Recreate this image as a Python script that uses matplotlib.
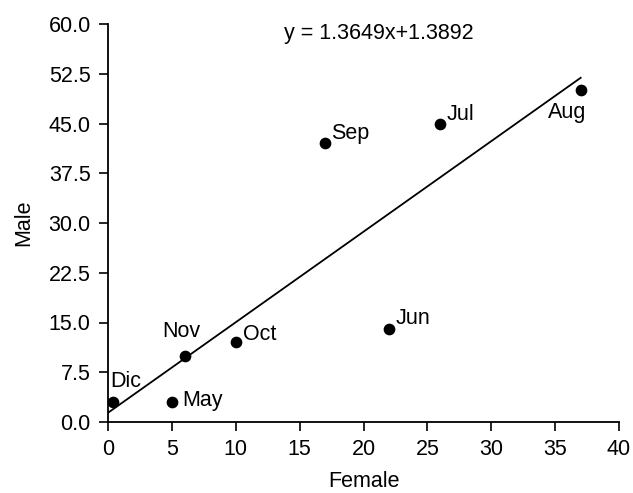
import matplotlib
matplotlib.use("Agg")
import matplotlib.pyplot as plt
import numpy as np

months = ["Dic", "May", "Nov", "Oct", "Sep", "Jun", "Jul", "Aug"]
female = [0.4, 5, 6, 10, 17, 22, 26, 37]
male = [3, 3, 10, 12, 42, 14, 45, 50]
slope = 1.3649
intercept = 1.3892
equation = "y = 1.3649x+1.3892"
xticks = [0, 5, 10, 15, 20, 25, 30, 35, 40]
yticks = [0.0, 7.5, 15.0, 22.5, 30.0, 37.5, 45.0, 52.5, 60.0]

# label offsets in pixels (dx, dy, ha, va)
offsets = {
    "Dic": (-3, 10, "left", "bottom"),
    "May": (10, 2, "left", "center"),
    "Nov": (-3, 14, "center", "bottom"),
    "Oct": (7, 8, "left", "center"),
    "Sep": (6, 10, "left", "center"),
    "Jun": (7, 11, "left", "center"),
    "Jul": (6, 9, "left", "center"),
    "Aug": (-14, -12, "center", "top"),
}

plt.rcParams['font.family'] = ['Liberation Sans', 'DejaVu Sans']
FS = 15.5

fig = plt.figure(figsize=(6.33, 4.93), dpi=100)
ax = fig.add_axes([108/633, 1-422/493, (619-108)/633, (422-24)/493])

ax.scatter(female, male, s=55, color='black', zorder=3, clip_on=False)
xl = np.array([0, max(female)])
ax.plot(xl, slope*xl + intercept, color='black', lw=1.3)

for m, x, y in zip(months, female, male):
    dx, dy, ha, va = offsets[m]
    ax.annotate(m, (x, y), xytext=(dx, dy), textcoords='offset pixels',
                ha=ha, va=va, fontsize=FS)

ax.text(21.2, 58.6, equation, ha='center', va='center', fontsize=FS)

ax.set_xlim(0, 40)
ax.set_ylim(0, 60)
ax.set_xticks(xticks)
ax.set_yticks(yticks)
ax.set_yticklabels([f"{v:.1f}" for v in yticks])
ax.tick_params(direction='out', length=6.5, width=1.2, labelsize=FS)
ax.tick_params(axis='y', pad=6)
ax.tick_params(axis='x', pad=6)
for s in ['top', 'right']:
    ax.spines[s].set_visible(False)
for s in ['left', 'bottom']:
    ax.spines[s].set_linewidth(1.3)
ax.set_xlabel("Female", fontsize=FS, labelpad=8)
ax.set_ylabel("Male", fontsize=FS, labelpad=10)

fig.savefig("out.png", dpi=100)
